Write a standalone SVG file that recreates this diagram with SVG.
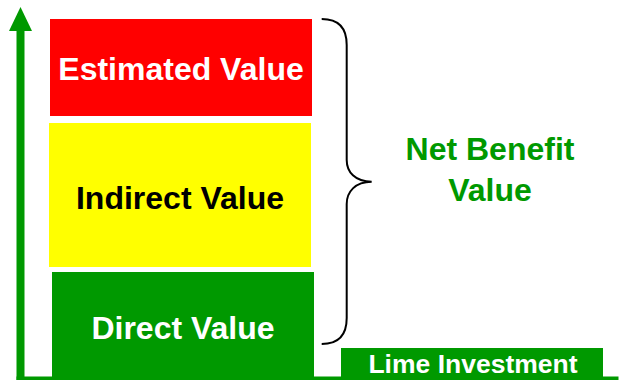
<svg xmlns="http://www.w3.org/2000/svg" width="621" height="380" viewBox="0 0 621 380">
<style>
text{font-family:"Liberation Sans",Arial,sans-serif;font-weight:bold;text-anchor:middle}
.big{font-size:32px}
.w{fill:#ffffff}
.k{fill:#000000}
.g{fill:#009900}
</style>
<rect width="621" height="380" fill="#ffffff"/>
<g id="axes">
<rect x="16.5" y="30" width="8" height="350" fill="#009900"/>
<polygon points="9,31 20.5,7 32,31" fill="#009900"/>
<rect x="16.5" y="376.5" width="602" height="3.5" fill="#009900"/>
</g>
<g id="estimated">
<rect x="50" y="19" width="262" height="97" fill="#ff0000"/>
<text class="big w" x="181" y="79.5">Estimated Value</text>
</g>
<g id="indirect">
<rect x="49" y="123" width="262" height="144" fill="#ffff00"/>
<text class="big k" x="180" y="209">Indirect Value</text>
</g>
<g id="direct">
<rect x="52" y="272" width="262" height="106" fill="#009900"/>
<text class="big w" x="183" y="339">Direct Value</text>
</g>
<g id="lime">
<rect x="341" y="348" width="262" height="30" fill="#009900"/>
<text class="w" font-size="26.5" x="473" y="373">Lime Investment</text>
</g>
<g id="connectors">
<path d="M321.7,19 C340,19 346.7,30 346.7,45 L346.7,160 C346.7,172 355,181.7 371.7,181.7 C355,181.7 346.7,192 346.7,204 L346.7,318 C346.7,334 340,344 321.7,344" fill="none" stroke="#000000" stroke-width="2"/>
</g>
<g id="netbenefit">
<text class="big g" x="490" y="159.5">Net Benefit</text>
<text class="big g" x="490" y="201">Value</text>
</g>
</svg>
